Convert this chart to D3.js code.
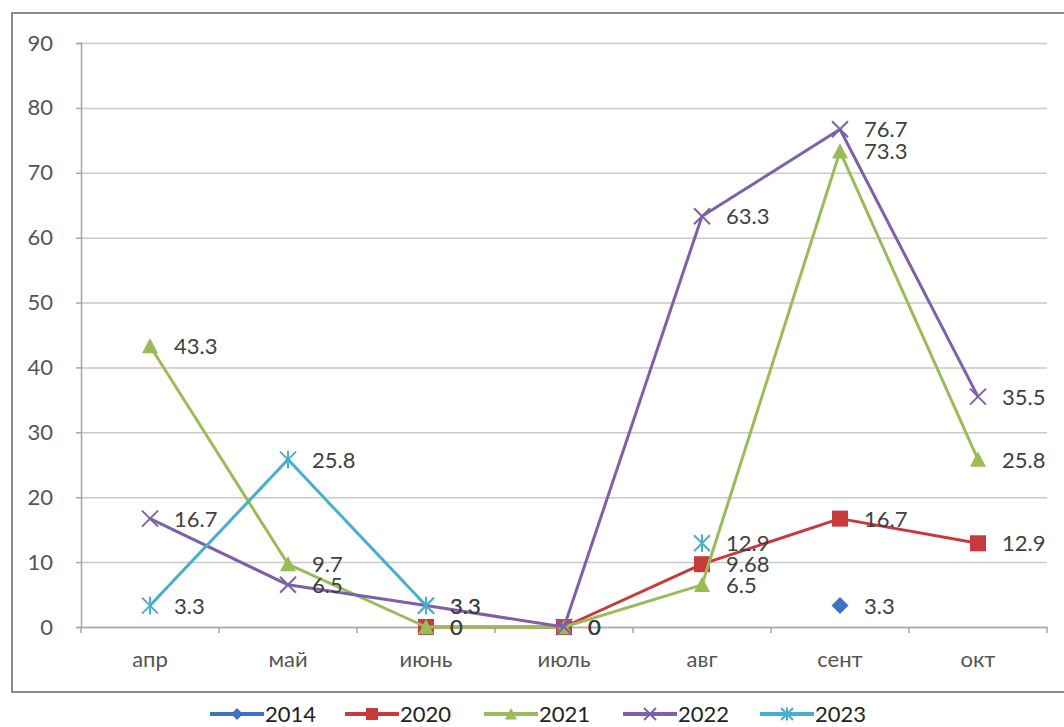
<!DOCTYPE html>
<html>
<head>
<meta charset="utf-8">
<script src="https://cdn.jsdelivr.net/npm/d3@7"></script>
<style>
  html, body { margin: 0; padding: 0; background: #fff; }
  svg { display: block; }
  text { font-family: Lato, "Noto Sans", sans-serif; }
</style>
</head>
<body>
<svg id="chart" width="1064" height="727"></svg>
<script>
// Months on the horizontal axis
const months = ["апр", "май", "июнь", "июль", "авг", "сент", "окт"];
// Vertical axis tick values
const yTicks = [0, 10, 20, 30, 40, 50, 60, 70, 80, 90];

// Series values by month (null = no observation)
const years = ["2014", "2020", "2021", "2022", "2023"];
const v2014 = [null, null, null, null, null, 3.3, null];
const v2020 = [null, null, 0, 0, 9.68, 16.7, 12.9];
const v2021 = [43.3, 9.7, 0, 0, 6.5, 73.3, 25.8];
const v2022 = [16.7, 6.5, 3.3, 0, 63.3, 76.7, 35.5];
const v2023 = [3.3, 25.8, 3.3, null, 12.9, null, null];

const colors = ["#3f72c2", "#c8393b", "#9bbb59", "#7d60a8", "#45b0cb"];
const shapes = ["diamond", "square", "triangle", "cross", "asterisk"];

const series = years.map((name, i) => ({
  name,
  values: [v2014, v2020, v2021, v2022, v2023][i],
  color: colors[i],
  shape: shapes[i]
}));

const svg = d3.select("#chart");

// Outer chart frame
svg.append("rect")
  .attr("x", 12).attr("y", 13)
  .attr("width", 1070).attr("height", 679)
  .attr("fill", "#fff")
  .attr("stroke", "#8c8c8c").attr("stroke-width", 2);

const plot = { left: 81, right: 1047, top: 43, bottom: 627 };

const x = d3.scaleBand().domain(months).range([plot.left, plot.right]);
const y = d3.scaleLinear().domain([0, 90]).range([plot.bottom, plot.top]);
const cx = m => x(m) + x.bandwidth() / 2;

// Horizontal gridlines
const grid = svg.append("g")
  .attr("transform", `translate(${plot.left},0)`)
  .call(d3.axisLeft(y).tickValues(yTicks).tickSize(-(plot.right - plot.left)).tickFormat(""));
grid.select(".domain").remove();
grid.selectAll("line").attr("stroke", "#c9c9c9").attr("stroke-width", 1.5);

// Vertical axis with labels
const yAxis = svg.append("g")
  .attr("transform", `translate(${plot.left},0)`)
  .call(d3.axisLeft(y).tickValues(yTicks).tickSize(5).tickPadding(23));
yAxis.select(".domain").attr("stroke", "#a6a6a6").attr("stroke-width", 1.5);
yAxis.selectAll("line").attr("stroke", "#a6a6a6").attr("stroke-width", 1.5);
yAxis.selectAll("text")
  .attr("fill", "#555").style("font-size", "22px");

// Horizontal axis: labels centred in each band, ticks on band boundaries
const xAxis = svg.append("g")
  .attr("transform", `translate(0,${plot.bottom})`)
  .call(d3.axisBottom(x).tickSize(0).tickPadding(24));
xAxis.select(".domain").attr("stroke", "#a6a6a6").attr("stroke-width", 1.5);
xAxis.selectAll("text")
  .attr("fill", "#555").style("font-size", "22px");
svg.append("g").selectAll("line")
  .data(months.map(m => x(m)).concat([x.range()[1]]))
  .join("line")
  .attr("x1", d => d).attr("x2", d => d)
  .attr("y1", plot.bottom).attr("y2", plot.bottom + 6)
  .attr("stroke", "#a6a6a6").attr("stroke-width", 1.5);

// Marker drawing
function marker(g, shape, color, s) {
  const h = s / 2;
  if (shape === "diamond") {
    g.append("path").attr("d", `M0,${-h}L${h},0L0,${h}L${-h},0Z`).attr("fill", color);
  } else if (shape === "square") {
    g.append("rect").attr("x", -h).attr("y", -h).attr("width", s).attr("height", s).attr("fill", color);
  } else if (shape === "triangle") {
    g.append("path").attr("d", `M0,${-h}L${h},${h * 0.9}L${-h},${h * 0.9}Z`).attr("fill", color);
  } else if (shape === "cross") {
    g.append("path").attr("d", `M${-h},${-h}L${h},${h}M${h},${-h}L${-h},${h}`)
      .attr("stroke", color).attr("stroke-width", 2).attr("fill", "none");
  } else if (shape === "asterisk") {
    g.append("path").attr("d", `M${-h},${-h}L${h},${h}M${h},${-h}L${-h},${h}M0,${-h * 1.1}L0,${h * 1.1}`)
      .attr("stroke", color).attr("stroke-width", 2).attr("fill", "none");
  }
}

const line = d3.line()
  .defined(d => d.v !== null)
  .x(d => cx(d.m))
  .y(d => y(d.v));

const seriesG = svg.append("g");
series.forEach(s => {
  const pts = months.map((m, i) => ({ m, v: s.values[i] }));
  const g = seriesG.append("g");
  g.append("path")
    .datum(pts)
    .attr("d", line)
    .attr("fill", "none")
    .attr("stroke", s.color)
    .attr("stroke-width", 3)
    .attr("stroke-linejoin", "round");
  pts.filter(d => d.v !== null).forEach(d => {
    const mg = g.append("g").attr("transform", `translate(${cx(d.m)},${y(d.v)})`);
    marker(mg, s.shape, s.color, s.shape === "diamond" ? 17 : 16);
  });
});

// Data labels to the right of each point
const labelG = svg.append("g");
series.forEach(s => {
  months.forEach((m, i) => {
    const v = s.values[i];
    if (v === null) return;
    labelG.append("text")
      .attr("x", cx(m) + 24)
      .attr("y", y(v))
      .attr("dy", "0.36em")
      .attr("fill", "#404040")
      .style("font-size", "22px")
      .text(String(v));
  });
});

// Legend
const legendX = [210, 345, 484, 623, 760];
const legend = svg.append("g").attr("transform", "translate(0,714)");
series.forEach((s, i) => {
  const g = legend.append("g").attr("transform", `translate(${legendX[i]},0)`);
  g.append("line").attr("x1", 0).attr("x2", 54).attr("y1", 0).attr("y2", 0)
    .attr("stroke", s.color).attr("stroke-width", 4);
  const mg = g.append("g").attr("transform", "translate(27,0)");
  marker(mg, s.shape, s.color, 12);
  g.append("text")
    .attr("x", 55).attr("y", 0).attr("dy", "0.36em")
    .attr("fill", "#222").style("font-size", "22px")
    .text(s.name);
});
</script>
</body>
</html>
